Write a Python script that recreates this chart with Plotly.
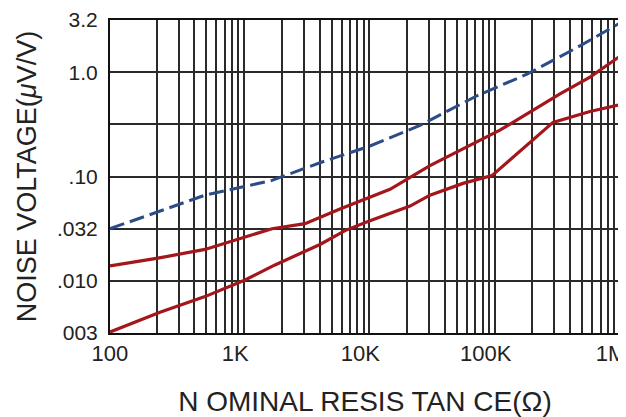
import plotly.graph_objects as go

# Resistance values (ohms)
dashed_x = [85, 205, 487, 1670, 4030, 10100, 25300, 72200, 181000, 454000, 1000000]
dashed_y = [0.0316, 0.0457, 0.0662, 0.0917, 0.1355, 0.196, 0.309, 0.594, 0.957, 1.72, 2.96]

upper_x = [85, 205, 487, 927, 1670, 3060, 5820, 14600, 30400, 110000, 332000, 576000, 1000000]
upper_y = [0.0139, 0.0165, 0.0200, 0.0255, 0.0316, 0.0353, 0.0488, 0.0754, 0.127, 0.278, 0.620, 0.897, 1.42]

lower_x = [85, 213, 487, 1016, 1763, 4030, 6380, 10100, 21100, 30400, 55800, 95100, 292000, 576000, 1000000]
lower_y = [0.00323, 0.00499, 0.00706, 0.0102, 0.0142, 0.0223, 0.0303, 0.0376, 0.0521, 0.0662, 0.0859, 0.102, 0.330, 0.420, 0.488]

x_tick_vals = [100, 1000, 10000, 100000, 1000000]
x_tick_text = ["100", "1K", "10K", "100K", "1M"]
x_grid_vals = [m * 10 ** d for d in range(2, 6) for m in range(1, 10) if m * 10 ** d > 100] + [1000000]

y_tick_vals = [0.003162, 0.01, 0.03162, 0.1, 0.3162, 1.0, 3.162]
y_tick_text = ["003", ".010", ".032", ".10", "", "1.0", "3.2"]

RED = "#a3161c"
BLUE = "#2b4c86"
GRID = "#2a2a2a"
FONT = "Liberation Sans, Arial, sans-serif"

fig = go.Figure()
fig.add_trace(go.Scatter(x=dashed_x, y=dashed_y, mode="lines",
                         line=dict(color=BLUE, width=3, dash="15px,6px")))
fig.add_trace(go.Scatter(x=upper_x, y=upper_y, mode="lines",
                         line=dict(color=RED, width=3.2)))
fig.add_trace(go.Scatter(x=lower_x, y=lower_y, mode="lines",
                         line=dict(color=RED, width=3.2)))

# the page has an 8px body margin, so the figure is sized to fit the window
fig.update_layout(
    width=618, height=409,
    margin=dict(l=102, r=6, t=12, b=84, autoexpand=False),
    paper_bgcolor="white", plot_bgcolor="white",
    showlegend=False,
    font=dict(family=FONT, color="#222222", size=21),
)
fig.update_xaxes(
    type="log", range=[1.9294, 6.0], automargin=False,
    tickvals=x_tick_vals, ticktext=x_tick_text,
    showgrid=False, ticks="", ticklabelstandoff=0, ticklabelshift=-9,
    ticklabeloverflow="allow",
    tickfont=dict(size=22),
    minor=dict(tickvals=x_grid_vals, showgrid=True, gridcolor=GRID, gridwidth=1.7, ticks=""),
    showline=True, linecolor="#111111", linewidth=2, mirror=True,
    title=dict(text="N OMINAL RESIS TAN CE(Ω)", font=dict(size=28), standoff=28),
)
fig.update_yaxes(
    type="log", range=[-2.5, 0.5], automargin=False,
    tickvals=y_tick_vals, ticktext=y_tick_text,
    showgrid=True, gridcolor=GRID, gridwidth=1.7, ticks="",
    ticklabeloverflow="allow",
    tickfont=dict(size=21), ticklabelstandoff=6,
    showline=True, linecolor="#111111", linewidth=2, mirror=True,
    title=dict(text="NOISE VOLTAGE(<i>μ</i>V/V)", font=dict(size=27), standoff=12),
)

fig.write_html("out.html")
